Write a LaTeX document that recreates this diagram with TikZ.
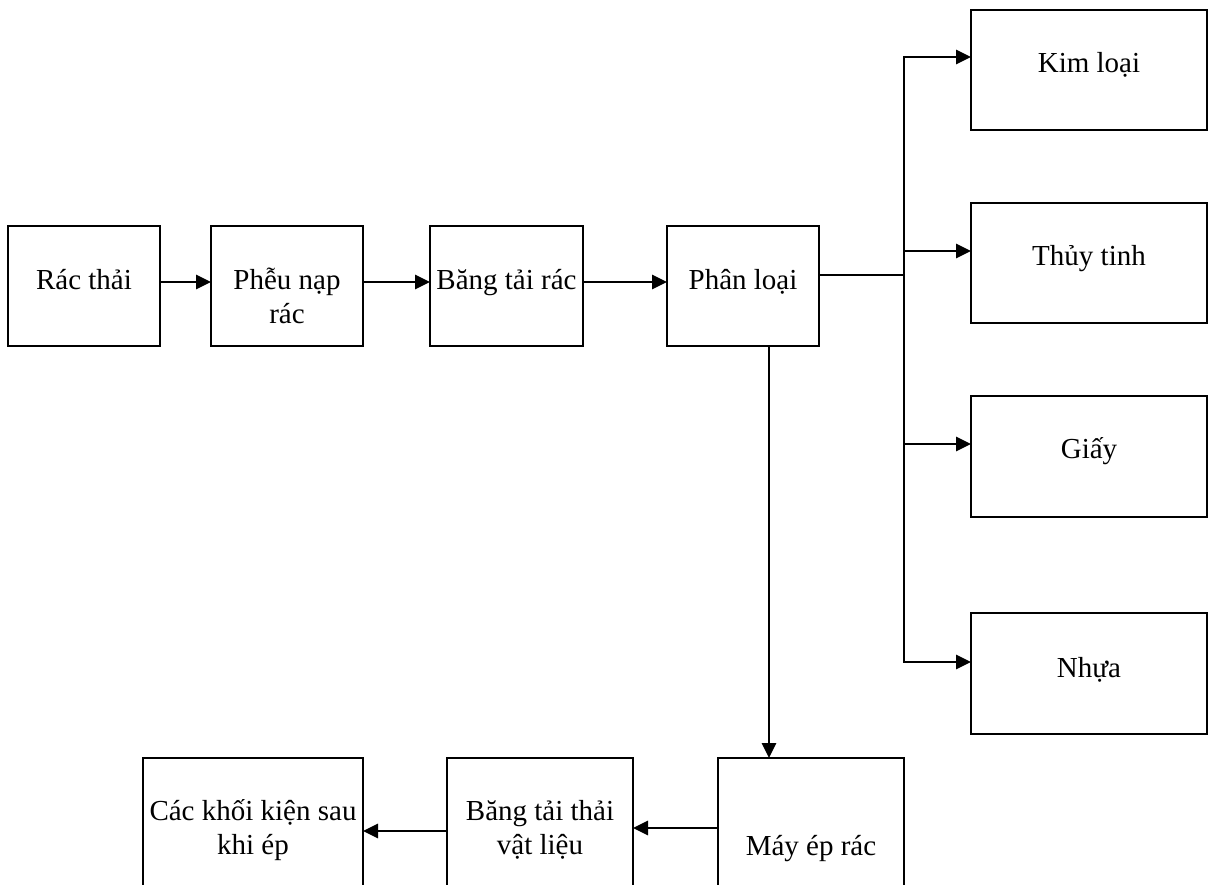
\documentclass[tikz,border=0pt]{standalone}
\usepackage{fontspec}
\setmainfont{Liberation Serif}
\usetikzlibrary{arrows.meta}

% box text: top-aligned, first baseline at a fixed distance from the top edge
\newcommand{\boxtxt}[4]{\parbox[c][#2pt][t]{#1pt}{\centering\rule{0pt}{#3pt}#4}}

\begin{document}
\begin{tikzpicture}[x=1pt,y=-1pt,
  box/.style={draw=black, line width=2pt, rectangle, inner sep=0pt, outer sep=0pt,
              font=\fontsize{29}{34}\selectfont},
  arr/.style={line width=2.8pt, -{Triangle[length=15pt,width=14pt]}},
  ln/.style={line width=2pt},
  bus/.style={line width=2.8pt}]
\useasboundingbox (0,0) rectangle (1208,885);
\clip (0,0) rectangle (1208,885);

% main line
\node[box] (rac)  at (84,286)    {\boxtxt{152}{120}{64}{Rác thải}};
\node[box] (pheu) at (287,286)   {\boxtxt{152}{120}{64}{Phễu nạp\\rác}};
\node[box] (bang) at (506.5,286) {\boxtxt{153}{120}{64}{Băng tải rác}};
\node[box] (phan) at (743,286)   {\boxtxt{152}{120}{64}{Phân loại}};

% sorted materials
\node[box] (kim)  at (1089,70)    {\boxtxt{236}{120}{63}{Kim loại}};
\node[box] (thuy) at (1089,263)   {\boxtxt{236}{120}{63}{Thủy tinh}};
\node[box] (giay) at (1089,456)   {\boxtxt{236}{121}{63}{Giấy}};
\node[box] (nhua) at (1089,673.5) {\boxtxt{236}{121}{64}{Nhựa}};

% compaction line
\node[box] (may)  at (811,833) {\boxtxt{186}{150}{97}{Máy ép rác}};
\node[box] (bthai) at (540,833) {\boxtxt{186}{150}{62}{Băng tải thải\\vật liệu}};
\node[box] (cac)  at (253,833) {\boxtxt{220}{150}{62}{Các khối kiện sau\\khi ép}};

% connectors along the main line
\draw[arr] ([yshift=4pt]rac.east)  -- ([yshift=4pt]pheu.west);
\draw[arr] ([yshift=4pt]pheu.east) -- ([yshift=4pt]bang.west);
\draw[arr] ([yshift=4pt]bang.east) -- ([yshift=4pt]phan.west);

% distribution bus to the material boxes
\coordinate (bt) at (904,57);
\coordinate (bb) at (904,662);
\draw[ln] ([yshift=11pt]phan.east) -- ([yshift=11pt]phan.east -| bt);
\draw[bus, line cap=rect] (bt) -- (bb);
\draw[arr] (bt) -- (bt -| kim.west);
\draw[arr] ([yshift=12pt]thuy.west -| bt) -- ([yshift=12pt]thuy.west);
\draw[arr] ([yshift=12pt]giay.west -| bt) -- ([yshift=12pt]giay.west);
\draw[arr] (bb) -- (bb -| nhua.west);

% down to the compactor and on to the bales
\draw[arr] ([xshift=26pt]phan.south) -- ([xshift=26pt]phan.south |- may.north);
\draw[arr] ([yshift=5pt]may.west) -- ([yshift=5pt]may.west -| bthai.east);
\draw[arr] ([yshift=2pt]bthai.west) -- ([yshift=2pt]bthai.west -| cac.east);
\end{tikzpicture}
\end{document}
